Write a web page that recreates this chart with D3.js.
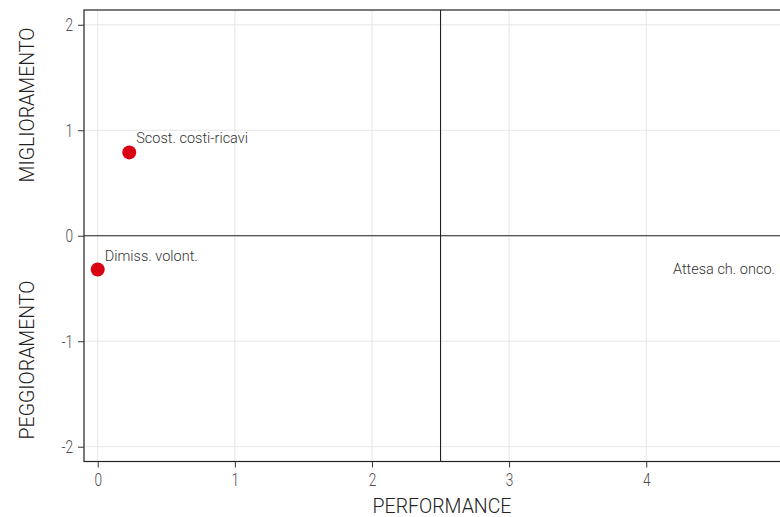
<!DOCTYPE html>
<html><head><meta charset="utf-8">
<script src="https://cdn.jsdelivr.net/npm/d3@7"></script>
<style>body{margin:0;background:#fff;} svg{display:block;font-family:Roboto, "DejaVu Sans", sans-serif;}</style>
</head><body>
<svg id="c" width="780" height="517"></svg>
<script>
const labels = ["Scost. costi-ricavi", "Dimiss. volont.", "Attesa ch. onco."];
const performance = [0.23, 0.0, 5.3];
const improvement = [0.79, -0.32, -0.45];
const xTicks = [0, 1, 2, 3, 4];
const yTicks = [-2, -1, 0, 1, 2];
const xThreshold = 2.5;
const yThreshold = 0;

const svg = d3.select("#c");
const L = 84, R = 782, T = 10, B = 461.5;
const x = d3.scaleLinear().domain([-0.1, 4.99]).range([L, R]);
const y = d3.scaleLinear().domain([-2.14, 2.14]).range([B, T]);

function condense(sel, f) {
  sel.each(function() {
    const w = this.getComputedTextLength();
    d3.select(this).attr("textLength", w * f).attr("lengthAdjust", "spacingAndGlyphs");
  });
}

svg.append("clipPath").attr("id","clip").append("rect")
  .attr("x", L).attr("y", T).attr("width", R - L).attr("height", B - T);

const g = svg.append("g");
g.selectAll(".gx").data(xTicks).join("line")
  .attr("x1", d => x(d)).attr("x2", d => x(d)).attr("y1", T).attr("y2", B)
  .attr("stroke", "#e6e6e6").attr("stroke-width", 1);
g.selectAll(".gy").data(yTicks).join("line")
  .attr("y1", d => y(d)).attr("y2", d => y(d)).attr("x1", L).attr("x2", R)
  .attr("stroke", "#e6e6e6").attr("stroke-width", 1);
g.append("line").attr("x1", x(xThreshold)).attr("x2", x(xThreshold)).attr("y1", T).attr("y2", B)
  .attr("stroke", "#222").attr("stroke-width", 1.1);
g.append("line").attr("y1", y(yThreshold)).attr("y2", y(yThreshold)).attr("x1", L).attr("x2", R)
  .attr("stroke", "#222").attr("stroke-width", 1.1);
g.append("rect").attr("x", L).attr("y", T).attr("width", R - L).attr("height", B - T)
  .attr("fill", "none").attr("stroke", "#222").attr("stroke-width", 1.2);

const xAxis = svg.append("g").attr("transform", `translate(0,${B})`)
  .call(d3.axisBottom(x).tickValues(xTicks).tickSize(6).tickPadding(5).tickFormat(d3.format("d")));
const yAxis = svg.append("g").attr("transform", `translate(${L},0)`)
  .call(d3.axisLeft(y).tickValues(yTicks).tickSize(6).tickPadding(5).tickFormat(d => d < 0 ? "-" + Math.abs(d) : d));
[xAxis, yAxis].forEach(a => {
  a.select(".domain").remove();
  a.selectAll(".tick line").attr("stroke", "#333");
  a.selectAll(".tick text").attr("fill", "#4d4d4d").attr("font-size", 19).attr("font-weight", 300)
    .attr("font-family", "Roboto, sans-serif");
  condense(a.selectAll(".tick text"), 0.72);
});

svg.append("text").attr("x", 442).attr("y", 513).attr("text-anchor", "middle")
  .attr("font-size", 19.5).attr("font-weight", 300).attr("fill", "#222").text("PERFORMANCE");
svg.append("text").attr("transform", `translate(34,105) rotate(-90)`).attr("text-anchor", "middle")
  .attr("font-size", 19.5).attr("font-weight", 300).attr("fill", "#222").text("MIGLIORAMENTO");
svg.append("text").attr("transform", `translate(34,360) rotate(-90)`).attr("text-anchor", "middle")
  .attr("font-size", 19.5).attr("font-weight", 300).attr("fill", "#222").text("PEGGIORAMENTO");

const data = labels.map((l, i) => ({label: l, px: performance[i], py: improvement[i]}));
svg.append("g").attr("clip-path", "url(#clip)").selectAll("circle").data(data).join("circle")
  .attr("cx", d => x(d.px)).attr("cy", d => y(d.py)).attr("r", 7).attr("fill", "#d90012");

svg.append("g").selectAll("text").data(data).join("text")
  .attr("font-size", 14.5).attr("font-weight", 300).attr("fill", "#333")
  .attr("y", d => y(d.py) - 9)
  .text(d => d.label)
  .each(function(d) {
    const w = this.getComputedTextLength();
    const sx = Math.min(x(d.px) + 7, 775 - w);
    d3.select(this).attr("x", sx);
  });
</script>
</body></html>
